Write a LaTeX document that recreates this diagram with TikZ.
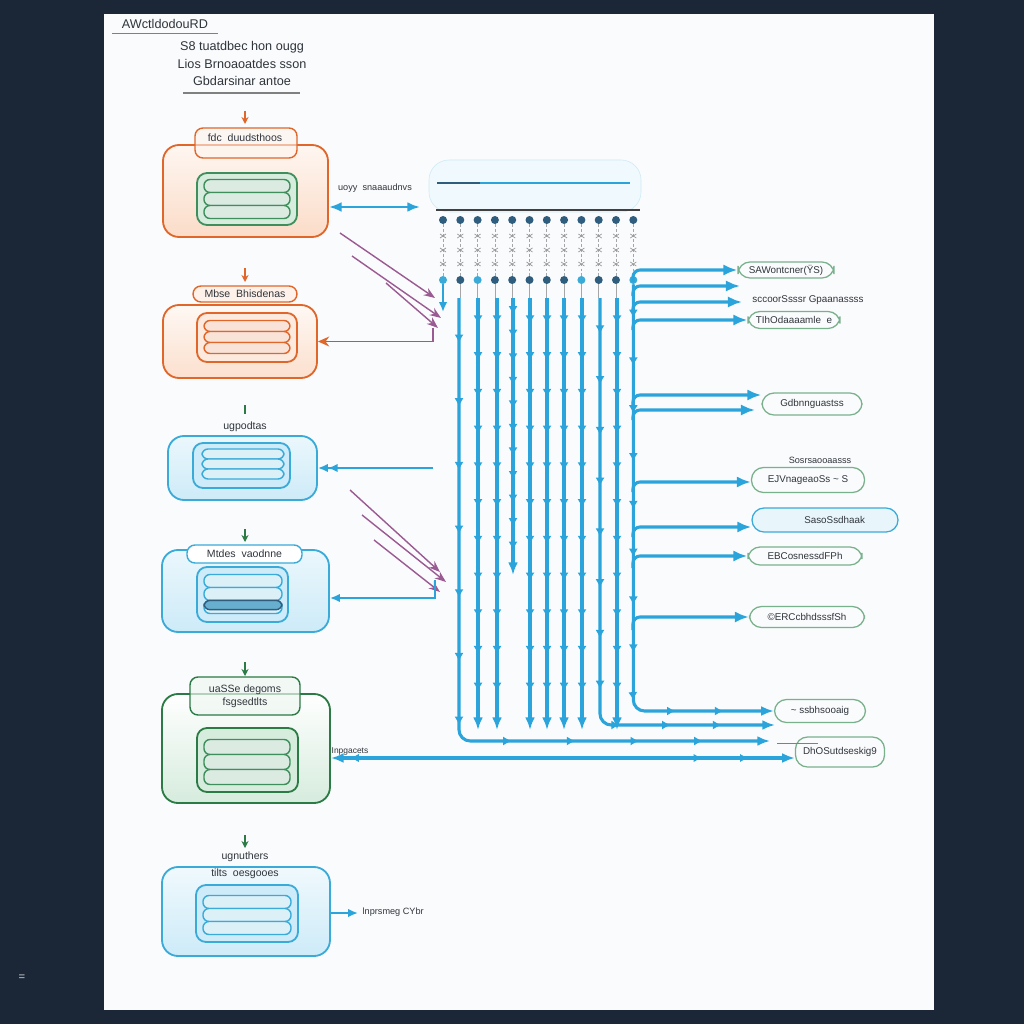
\documentclass[tikz,border=0pt]{standalone}
\usepackage{fontspec}
\setmainfont{Liberation Sans}
\usetikzlibrary{arrows.meta,decorations.markings,calc}
\definecolor{navy}{HTML}{1B2636}
\definecolor{paper}{HTML}{FAFBFC}
\definecolor{orng}{HTML}{E0662A}
\definecolor{orngfill}{HTML}{FBDCC8}
\definecolor{grn}{HTML}{3F8F5C}
\definecolor{grnfill}{HTML}{D6ECDD}
\definecolor{dgrn}{HTML}{2C7A45}
\definecolor{blu}{HTML}{3AABD9}
\definecolor{blufill}{HTML}{CDEBF8}
\definecolor{arr}{HTML}{2AA4DB}
\definecolor{purp}{HTML}{9A5A92}
\definecolor{txt}{HTML}{30353C}
\definecolor{dotd}{HTML}{2F5D7E}
\newcommand{\upx}{0.025cm}
\newcommand{\mypills}[6]{%
  \foreach \k in {1,2,3}{%
    \node[pill=#6, minimum width={(#4)*\upx}, minimum height={(#5)*\upx}] (#1\k) at ({#2},{#3+(\k-2)*(#5)}) {};
  }}
\tikzset{
  lbl/.style={font=\fontsize{7.5}{8.5}\selectfont, text=txt, inner sep=1pt, align=center},
  obox/.style={draw=#1, line width=1.3pt, rounded corners=0.4cm},
  ibox/.style={draw=#1, line width=1.3pt, rounded corners=0.25cm},
  pill/.style={draw=#1, line width=1pt, fill=#1!18, rounded corners=0.15cm},
  tabbox/.style={draw=#1, line width=1pt, rounded corners=0.2cm, font=\fontsize{7.5}{8.5}\selectfont, text=txt, align=center},
  rbox/.style={draw=#1, line width=0.9pt, rounded corners=0.3cm, font=\fontsize{7}{8}\selectfont, text=txt, inner sep=2pt},
  smallarr/.style={draw=#1, line width=1.2pt, -{Stealth[length=5pt,width=5pt]}},
  vline/.style={draw=arr, line width=2.2pt, -{Latex[length=9pt,width=7pt]},
    postaction={decorate},
    decoration={markings, mark=between positions 0.06 and 0.92 step 0.085 with {\arrow{Latex[length=6pt,width=6.5pt]}}}},
  harr/.style={draw=arr, line width=2.2pt, -{Latex[length=10pt,width=8pt]}},
  purpline/.style={draw=purp, line width=1pt, -{Stealth[length=8pt,width=6pt]}},
}
\begin{document}
\begin{tikzpicture}[x=\upx,y=-\upx]
\fill[navy] (0,0) rectangle (1024,1024);
\fill[paper] (104,14) rectangle (934,1010);
\useasboundingbox (0,0) rectangle (1024,1024);

% title block
\node[lbl, font=\fontsize{9}{10}\selectfont] (title) at (165,24) {AWctldodouRD};
\draw[gray, line width=0.6pt] (112,33) -- (218,33);
\node[lbl, font=\fontsize{9}{10}\selectfont] (s1) at (242,47) {S8 tuatdbec hon ougg};
\node[lbl, font=\fontsize{9}{10}\selectfont] (s2) at (242,64) {Lios Brnoaoatdes sson};
\node[lbl, font=\fontsize{9}{10}\selectfont] (s3) at (242,81) {Gbdarsinar antoe};
\draw[gray, line width=0.8pt] (183,93) -- (300,93);

% box 1
\coordinate (a1s) at (245,111); \coordinate (a1e) at (245,124);
\draw[smallarr=orng] (a1s) -- (a1e);
\node[obox=orng, top color=orngfill!25, bottom color=orngfill, minimum width={165*\upx}, minimum height={92*\upx}] (b1) at (245.5,191) {};
\node[tabbox=orng, fill=orngfill!30, fill opacity=0.6, text opacity=1, minimum width={102*\upx}, minimum height={30*\upx}] (t1) at (246,143) {};
\node[lbl] (t1l) at (245,138) {fdc\ \ duudsthoos};
\node[ibox=grn, fill=grnfill, minimum width={100*\upx}, minimum height={52*\upx}] (i1) at (247,199) {};
\mypills{p1}{247}{199}{86}{13}{grn}

% box 2
\coordinate (a2s) at (245,268); \coordinate (a2e) at (245,282);
\draw[smallarr=orng] (a2s) -- (a2e);
\node[obox=orng, top color=orngfill!20, bottom color=orngfill!90, minimum width={154*\upx}, minimum height={73*\upx}] (b2) at (240,341.5) {};
\node[tabbox=orng, fill=orngfill!40, minimum width={104*\upx}, minimum height={16*\upx}, inner sep=1pt] (t2) at (245,294) {Mbse\ \ Bhisdenas};
\node[ibox=orng, fill=orngfill!60, minimum width={100*\upx}, minimum height={49*\upx}] (i2) at (247,337.5) {};
\mypills{p2}{247}{337}{86}{11}{orng}

% box 3
\coordinate (a3s) at (245,405); \coordinate (a3e) at (245,414);
\draw[dgrn, line width=1.5pt] (a3s) -- (a3e);
\node[lbl] (l3) at (245,427) {ugpodtas};
\node[obox=blu, top color=blufill!40, bottom color=blufill, minimum width={149*\upx}, minimum height={64*\upx}] (b3) at (242.5,468) {};
\node[ibox=blu, fill=blufill, minimum width={97*\upx}, minimum height={45*\upx}] (i3) at (241.5,465.5) {};
\mypills{p3}{243}{464}{82}{10}{blu}

% box 4
\coordinate (a4s) at (245,529); \coordinate (a4e) at (245,542);
\draw[smallarr=dgrn] (a4s) -- (a4e);
\node[obox=blu, top color=blufill!40, bottom color=blufill, minimum width={167*\upx}, minimum height={82*\upx}] (b4) at (245.5,591) {};
\node[tabbox=blu, fill=white, minimum width={115*\upx}, minimum height={18*\upx}, inner sep=1pt] (t4) at (244.5,554) {Mtdes\ \ vaodnne};
\node[ibox=blu, fill=blufill, minimum width={91*\upx}, minimum height={55*\upx}] (i4) at (242.5,594.5) {};
\mypills{p4}{243}{594}{78}{13}{blu}
\node[pill=dotd, fill=blu!70!dotd, fill opacity=0.7, minimum width={78*\upx}, minimum height={9*\upx}] (p4d) at (243,605) {};

% box 5
\coordinate (a5s) at (245,662); \coordinate (a5e) at (245,676);
\draw[smallarr=dgrn] (a5s) -- (a5e);
\node[obox=dgrn, top color=white, bottom color=grnfill, minimum width={168*\upx}, minimum height={109*\upx}] (b5) at (246,748.5) {};
\node[tabbox=dgrn, fill=grnfill!40, fill opacity=0.7, text opacity=1, minimum width={110*\upx}, minimum height={38*\upx}] (t5) at (245,696) {uaSSe\ degoms\\[1pt]fsgsedtlts};
\node[ibox=dgrn, fill=grnfill, minimum width={101*\upx}, minimum height={64*\upx}] (i5) at (247.5,760) {};
\mypills{p5}{247}{762}{86}{15}{grn}

% box 6
\coordinate (a6s) at (245,835); \coordinate (a6e) at (245,848);
\draw[smallarr=dgrn] (a6s) -- (a6e);
\node[lbl] (l6) at (245,857) {ugnuthers};
\node[obox=blu, top color=blufill!30, bottom color=blufill, minimum width={168*\upx}, minimum height={89*\upx}] (b6) at (246,911.5) {};
\node[lbl] (l6b) at (245,874) {tilts\ \ oesgooes};
\node[ibox=blu, fill=blufill, minimum width={102*\upx}, minimum height={57*\upx}] (i6) at (247,913.5) {};
\mypills{p6}{247}{915}{88}{13}{blu}

% top bus
\node[draw=blu!25, fill=blufill!30, rounded corners=0.5cm, minimum width={212*\upx}, minimum height={52*\upx}] (bus) at (535,186) {};
\coordinate (bl1) at (437,183); \coordinate (bl2) at (480,183); \coordinate (bl3) at (630,183);
\draw[dotd, line width=1.8pt] (bl1) -- (bl2);
\draw[arr, line width=1.8pt] (bl2) -- (bl3);
\coordinate (hb1) at (436,210); \coordinate (hb2) at (640,210);
\draw[black!75, line width=1.5pt] (hb1) -- (hb2);

% dot columns
\foreach \i/\c in {0/blu,1/dotd,2/blu,3/dotd,4/dotd,5/dotd,6/dotd,7/dotd,8/blu,9/dotd,10/dotd,11/blu}{
  \pgfmathsetmacro\cx{443+17.3*\i}
  \node[circle, fill=dotd, inner sep=0pt, minimum size=0.2cm] (d\i) at (\cx,220) {};
  \node[circle, fill=\c, inner sep=0pt, minimum size=0.2cm] (e\i) at (\cx,280) {};
  \draw[gray!70, line width=0.5pt, dash pattern=on 2pt off 1.5pt] (d\i) -- (e\i);
  \foreach \yy in {236,250,264}{
    \draw[gray!80, line width=0.5pt] ($(\cx,\yy)+(-3,-2)$) -- ($(\cx,\yy)+(3,2)$);
    \draw[gray!80, line width=0.5pt] ($(\cx,\yy)+(-3,2)$) -- ($(\cx,\yy)+(3,-2)$);
  }
  \draw[gray!70, line width=0.5pt] (e\i) -- (\cx,298);
}
\draw[arr, line width=1.5pt, -{Latex[length=7pt,width=6pt]}] (e0) -- (443,312);

% vertical arrows
\foreach \x in {478,497,530,547,564,582,617}{
  \draw[vline] (\x,298) -- (\x,730);
}
\draw[vline] (513,298) -- (513,575);

% right labels
\node[rbox=grn!70, minimum width={96*\upx}, minimum height={16*\upx}] (r1) at (786,270) {SAWontcner(ŸS)};
\node[lbl, font=\fontsize{7}{8}\selectfont] (r2) at (808,300) {sccoorSsssr\ Gpaanassss};
\node[rbox=grn!70, minimum width={92*\upx}, minimum height={17*\upx}] (r3) at (794,320) {TIhOdaaaamle\ \ e};
\node[rbox=grn!70, minimum width={100*\upx}, minimum height={22*\upx}] (r4) at (812,404) {Gdbnnguastss};
\node[lbl, font=\fontsize{6.5}{7}\selectfont] (r5l) at (820,460) {Sosrsaooaasss};
\node[rbox=grn!70, minimum width={113*\upx}, minimum height={25*\upx}] (r5) at (808,480) {EJVnageaoSs\ \textasciitilde\ S};
\node[rbox=blu, fill=blufill!45, minimum width={146*\upx}, minimum height={24*\upx}, text width={80*\upx}, align=right] (r6) at (825,520) {SasoSsdhaak};
\node[rbox=grn!70, minimum width={114*\upx}, minimum height={18*\upx}] (r7) at (805,556) {EBCosnessdFPh};
\node[rbox=grn!70, minimum width={115*\upx}, minimum height={21*\upx}] (r8) at (807,617) {©ERCcbhdsssfSh};
\node[rbox=grn!70, minimum width={91*\upx}, minimum height={23*\upx}] (r9) at (820,711) {\textasciitilde\ ssbhsooaig};
\node[rbox=grn!70, minimum width={89*\upx}, minimum height={30*\upx}] (r10) at (840,752) {DhOSutdseskig9};
\coordinate (pt1) at (777,743); \coordinate (pt2) at (818,743);
\draw[gray, line width=0.6pt] (pt1) -- (pt2);

% bottom curving lines
\coordinate (c741) at (770,741);
\coordinate (c725) at (775,725);
\draw[vline, rounded corners=8pt] (459,298) |- (c741);
\draw[vline, rounded corners=8pt] (600,298) |- (c725);
\draw[vline, rounded corners=8pt] (e11) |- (r9.west);

% branches from the right bus
\coordinate (q286) at (740,286);
\coordinate (q302) at (742,302);
\coordinate (q410) at (755,410);
\draw[harr, rounded corners=5pt] (633,282) |- (r1.west);
\draw[harr, rounded corners=5pt] (633,296) |- (q286);
\draw[harr, rounded corners=5pt] (633,312) |- (q302);
\draw[harr, rounded corners=5pt] (633,330) |- (r3.west);
\draw[harr, rounded corners=5pt] (633,405) |- (r4.west |- 0,395);
\draw[harr, rounded corners=5pt] (633,420) |- (q410);
\draw[harr, rounded corners=5pt] (633,492) |- (r5.west |- 0,482);
\draw[harr, rounded corners=5pt] (633,537) |- (r6.west |- 0,527);
\draw[harr, rounded corners=5pt] (633,568) |- (r7.west);
\draw[harr, rounded corners=5pt] (633,630) |- (r8.west);

% left side connectors
\coordinate (e1r) at (420,207);
\draw[arr, line width=2pt, {Latex[length=9pt,width=7pt]}-{Latex[length=9pt,width=7pt]}] (b1.east |- e1r) -- (e1r);
\node[lbl, font=\fontsize{6.5}{7}\selectfont] (e1l) at (375,188) {uoyy\ \ snaaaudnvs};

\draw[purpline] (340,233) -- (435,298);
\draw[purpline] (352,256) -- (441,318);
\draw[purpline] (386,283) -- (438,328);
\coordinate (pj2) at (433,328);
\draw[purp, line width=1pt, -{Stealth[length=8pt,width=7pt,color=orng]}] (pj2) |- (b2.east);

\coordinate (bj3) at (433,468);
\draw[arr, line width=1.5pt, -{Latex[length=7pt,width=6pt]Latex[length=7pt,width=6pt]}] (bj3) -- (b3.east);

\draw[purpline] (350,490) -- (440,572);
\draw[purpline] (362,515) -- (446,582);
\draw[purpline] (374,540) -- (440,592);
\coordinate (bj4) at (435,580);
\draw[arr, line width=1.5pt, -{Latex[length=7pt,width=6pt]}] (bj4) |- (b4.east |- 0,598);

\draw[arr, line width=2.2pt, {Latex[length=9pt,width=7pt]}-{Latex[length=9pt,width=7pt]},
  postaction={decorate}, decoration={markings, mark=at position 0.06 with {\arrow{Latex[length=6pt,width=6pt,reversed]}}, mark=at position 0.8 with {\arrow{Latex[length=6pt,width=6pt]}}, mark=at position 0.9 with {\arrow{Latex[length=6pt,width=6pt]}}}]
  (b5.east |- 0,758) -- (r10.west |- 0,758);
\node[lbl, font=\fontsize{6}{7}\selectfont] (l5) at (350,751) {Inpgacets};

\coordinate (o6) at (358,913);
\draw[arr, line width=1.5pt, -{Latex[length=7pt,width=6pt]}] (b6.east |- o6) -- (o6);
\node[lbl, font=\fontsize{6.5}{7}\selectfont, anchor=west] (l6o) at (361,912) {lnprsmeg\ CYbr};

\node[text=white!80!navy, font=\fontsize{8}{9}\selectfont] (eq) at (22,978) {=};
\end{tikzpicture}
\end{document}
